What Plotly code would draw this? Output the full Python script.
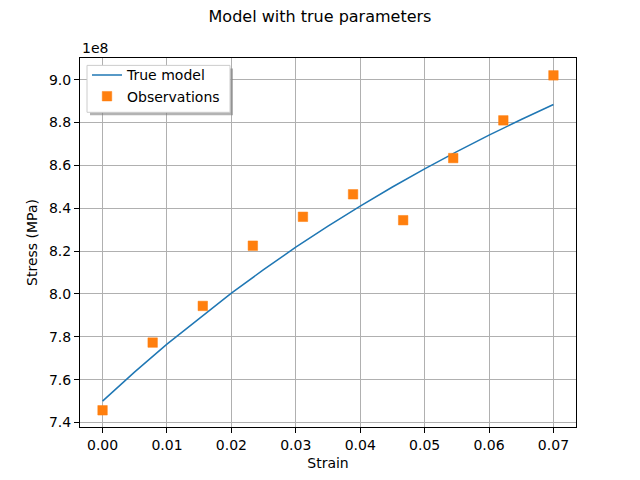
import plotly.graph_objects as go

# strain values and stress in units of 1e8 MPa
obs_strain = [0.0, 0.00778, 0.01556, 0.02333, 0.03111, 0.03889, 0.04667, 0.05444, 0.06222, 0.07]
obs_stress = [7.457, 7.773, 7.944, 8.225, 8.360, 8.465, 8.344, 8.634, 8.810, 9.020]

model_strain = [0.0, 0.005, 0.01, 0.015, 0.02, 0.025, 0.03, 0.035, 0.04, 0.045, 0.05, 0.055, 0.06, 0.065, 0.07]
model_stress = [7.500, 7.636, 7.766, 7.887, 8.004, 8.113, 8.218, 8.316, 8.410, 8.499, 8.584, 8.664, 8.741, 8.814, 8.884]

y_ticks = [7.4, 7.6, 7.8, 8.0, 8.2, 8.4, 8.6, 8.8, 9.0]
x_ticks = [0.0, 0.01, 0.02, 0.03, 0.04, 0.05, 0.06, 0.07]

font = "DejaVu Sans"

fig = go.Figure()
fig.add_trace(go.Scatter(x=model_strain, y=model_stress, mode="lines", name="True model",
                         line=dict(color="#1f77b4", width=1.5)))
fig.add_trace(go.Scatter(x=obs_strain, y=obs_stress, mode="markers", name="Observations",
                         marker=dict(symbol="square", size=9.5, color="#ff7f0e",
                                     line=dict(color="#ff7f0e", width=0.5))))

axis_style = dict(showline=True, linecolor="black", linewidth=1, mirror=True,
                  showgrid=True, gridcolor="#b0b0b0", gridwidth=1,
                  ticks="outside", ticklen=5, tickwidth=1, tickcolor="black",
                  zeroline=False, automargin=False,
                  tickfont=dict(family=font, size=14, color="black"))

fig.update_xaxes(range=[-0.0035, 0.0735], tickvals=x_ticks, tickformat=".2f",
                 title=dict(text="Strain", font=dict(family=font, size=14, color="black"), standoff=6),
                 **axis_style)
fig.update_yaxes(range=[7.379, 9.101], tickvals=y_ticks, tickformat=".1f",
                 title=dict(text="Stress (MPa)", font=dict(family=font, size=14, color="black"), standoff=8),
                 **axis_style)

# legend frame drawn as shapes (box x 87..230, y 65..112 px) with a drop shadow
lx0, lx1 = (87 - 80) / 496, (230 - 80) / 496
ly1, ly0 = (427.2 - 65) / 369.6, (427.2 - 112) / 369.6
dx, dy = 3 / 496, 3 / 369.6

fig.update_layout(
    width=640, height=480,
    margin=dict(l=80, r=64, t=57.6, b=52.8),
    paper_bgcolor="white", plot_bgcolor="white",
    title=dict(text="Model with true parameters", x=0.5, xanchor="center", y=0.965, yanchor="middle",
               font=dict(family=font, size=16, color="black")),
    legend=dict(x=lx0, y=(427.2 - 59) / 369.6, xanchor="left", yanchor="top",
                bgcolor="rgba(0,0,0,0)", borderwidth=0,
                font=dict(family=font, size=14, color="black"),
                itemwidth=30, tracegroupgap=0),
    showlegend=True,
    annotations=[dict(text="1e8", xref="paper", yref="paper", x=0, y=1, xanchor="left", yanchor="bottom",
                      showarrow=False, font=dict(family=font, size=14, color="black"))],
    shapes=[
        dict(type="rect", xref="paper", yref="paper", x0=lx0 + dx, x1=lx1 + dx, y0=ly0 - dy, y1=ly1 - dy,
             fillcolor="#808080", line=dict(width=0), layer="above", opacity=0.6),
        dict(type="rect", xref="paper", yref="paper", x0=lx0, x1=lx1, y0=ly0, y1=ly1,
             fillcolor="white", line=dict(color="#cccccc", width=1), layer="above"),
    ],
)

fig.write_html("out.html", config={"displayModeBar": False},
               post_script="document.body.style.margin='0';")
